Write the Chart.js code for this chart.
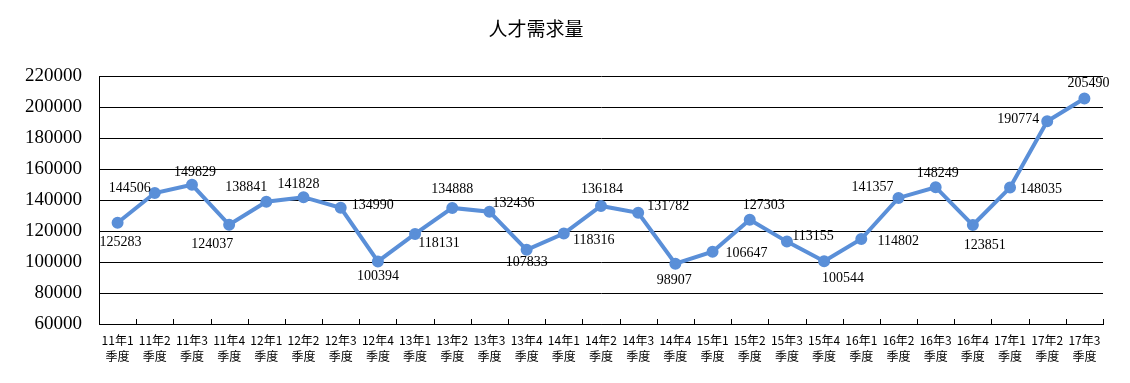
<!DOCTYPE html>
<html>
<head>
<meta charset="utf-8">
<script src="https://cdn.jsdelivr.net/npm/chart.js@4/dist/chart.umd.min.js"></script>
<style>
  html, body { margin: 0; padding: 0; background: #fff; }
  #wrap { width: 1130px; height: 383px; position: relative; }
</style>
</head>
<body>
<div id="wrap"><canvas id="talentChart"></canvas></div>
<script>
// 標題
const chartTitle = '人才需求量';
// 季度
const quarters = [
    ['11年1', '季度'], ['11年2', '季度'], ['11年3', '季度'], ['11年4', '季度'],
    ['12年1', '季度'], ['12年2', '季度'], ['12年3', '季度'], ['12年4', '季度'],
    ['13年1', '季度'], ['13年2', '季度'], ['13年3', '季度'], ['13年4', '季度'],
    ['14年1', '季度'], ['14年2', '季度'], ['14年3', '季度'], ['14年4', '季度'],
    ['15年1', '季度'], ['15年2', '季度'], ['15年3', '季度'], ['15年4', '季度'],
    ['16年1', '季度'], ['16年2', '季度'], ['16年3', '季度'], ['16年4', '季度'],
    ['17年1', '季度'], ['17年2', '季度'], ['17年3', '季度']
];
// 需求量
const demand = [
    125283, 144506, 149829, 124037, 138841, 141828, 134990, 100394,
    118131, 134888, 132436, 107833, 118316, 136184, 131782, 98907,
    106647, 127303, 113155, 100544, 114802, 141357, 148249, 123851,
    148035, 190774, 205490
];
// y 軸
const yMin = 60000;
const yMax = 220000;
const yStep = 20000;

// 數值標籤相對點的偏移 (樣式)
const labelShift = [
    [3, 20], [-25, -5], [3, -12], [-17, 20], [-20, -14], [-5, -13], [32, -2], [0, 15],
    [24, 9], [0, -19], [24, -8], [0, 12], [30, 7], [1, -17], [30, -6], [-1, 17],
    [34, 2], [14, -14], [26, -5], [19, 17], [37, 2], [-26, -11], [2, -14], [12, 20],
    [31, 2], [-29, -2], [4, -15]
];

const lineColor = '#5A8FD8';
const serif = '"Liberation Serif", "DejaVu Serif", serif';
const cjk = '"Noto Sans CJK SC", "Noto Sans CJK TC", sans-serif';

const extrasPlugin = {
    id: 'extras',
    afterDatasetsDraw(chart) {
        const ctx = chart.ctx;
        const x = chart.scales.x;
        const meta = chart.getDatasetMeta(0);
        ctx.save();
        // x 軸刻度 (向內)
        ctx.strokeStyle = '#000';
        ctx.lineWidth = 1;
        const w = (x.right - x.left) / quarters.length;
        for (let i = 1; i <= quarters.length; i++) {
            const px = Math.round(x.left + i * w) + 0.5;
            ctx.beginPath();
            ctx.moveTo(px, chart.chartArea.bottom - 5);
            ctx.lineTo(px, chart.chartArea.bottom);
            ctx.stroke();
        }
        // 數值標籤
        ctx.fillStyle = '#000';
        ctx.font = '14px ' + serif;
        ctx.textAlign = 'center';
        ctx.textBaseline = 'middle';
        meta.data.forEach((pt, i) => {
            const s = labelShift[i];
            ctx.fillText(String(demand[i]), pt.x + s[0], pt.y + s[1]);
        });
        // 標題
        ctx.font = '19px ' + cjk;
        ctx.fillText(chartTitle, 536, 29);
        ctx.restore();
    }
};

new Chart(document.getElementById('talentChart'), {
    type: 'line',
    data: {
        labels: quarters,
        datasets: [{
            data: demand,
            borderColor: lineColor,
            backgroundColor: lineColor,
            borderWidth: 4,
            pointStyle: 'circle',
            pointRadius: 4,
            pointHoverRadius: 4,
            tension: 0
        }]
    },
    options: {
        responsive: true,
        maintainAspectRatio: false,
        animation: false,
        layout: {
            padding: { left: 0, right: 27, top: 76, bottom: 0 }
        },
        plugins: {
            legend: { display: false },
            title: { display: false },
            tooltip: { enabled: false }
        },
        scales: {
            x: {
                offset: true,
                grid: { display: false, drawTicks: false },
                border: { display: true, color: '#000', width: 1 },
                ticks: {
                    autoSkip: false,
                    maxRotation: 0,
                    minRotation: 0,
                    padding: 8,
                    color: '#000',
                    font: { family: cjk, size: 12, lineHeight: 1.35 }
                },
                afterFit(scale) { scale.height = 59; }
            },
            y: {
                min: yMin,
                max: yMax,
                ticks: {
                    stepSize: yStep,
                    padding: 17,
                    color: '#000',
                    font: { family: serif, size: 19 },
                    callback: v => String(v)
                },
                grid: { color: '#000', lineWidth: 1, drawTicks: false },
                border: { display: true, color: '#000', width: 1 },
                afterFit(scale) { scale.width = 99; }
            }
        }
    },
    plugins: [extrasPlugin]
});
</script>
</body>
</html>
